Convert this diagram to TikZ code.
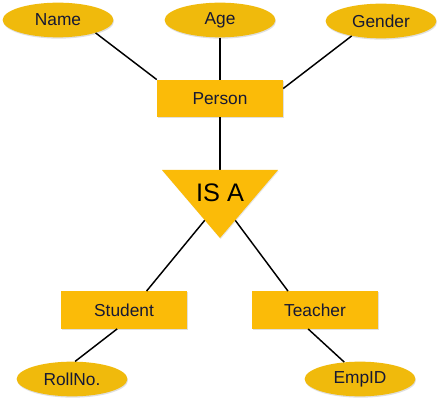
\documentclass[tikz,border=0pt]{standalone}
\usepackage{fontspec}
\setmainfont{Liberation Sans}
\usepackage{xcolor}
\usetikzlibrary{shapes.geometric,shadows}
\definecolor{boxyellow}{RGB}{251,187,8}
\definecolor{ovalyellow}{RGB}{240,186,12}
\definecolor{textnavy}{RGB}{22,24,52}

\tikzset{
  entity/.style={fill=boxyellow, minimum width=94.5pt, minimum height=28pt, inner sep=0pt,
    text=textnavy, font=\fontsize{13}{15}\selectfont,
    drop shadow={opacity=0.25, shadow xshift=0.5pt, shadow yshift=-0.8pt}},
  attrib/.style={ellipse, fill=ovalyellow, minimum width=83pt, minimum height=26pt, inner sep=0pt,
    text=textnavy, font=\fontsize{13}{15}\selectfont,
    drop shadow={opacity=0.25, shadow xshift=0.5pt, shadow yshift=-1pt}},
  link/.style={line width=1.1pt}
}

\begin{document}
\begin{tikzpicture}[x=0.75pt,y=-0.75pt]
		\useasboundingbox (0,0) rectangle (440,403);
		% attributes of person
		\node[attrib] (name) at (58,20) {Name};
		\node[attrib] (age) at (220,20) {Age};
		\node[attrib] (gender) at (381,21) {Gender};
		\node[entity] (person) at (220,98.5) {Person};
		% is a triangle
		\coordinate (isa-top) at (220,170);
		\coordinate (isa-l) at (205,220);
		\coordinate (isa-r) at (235,220);
		\node[entity] (student) at (124,310) {Student};
		\node[entity] (teacher) at (315,310) {Teacher};
		\node[attrib] (rollno) at (72,379) {RollNo.};
		\node[attrib] (empid) at (360,379) {EmpID};
		\draw[link] (name.-19) -- (person.north west);
		\draw[link] (age) -- (person);
		\draw[link] (gender.207) -- (person.9);
		\draw[link] (person) -- (isa-top);
		\draw[link] (isa-l) -- (student.40);
		\draw[link] (isa-r) -- (teacher.145);
		\draw[link] (student.250) -- (rollno.80);
		\draw[link] (teacher.250) -- (empid.133);
		\fill[boxyellow, drop shadow={opacity=0.2, shadow xshift=0.5pt, shadow yshift=-0.8pt}] (162,170) -- (278,170) -- (220,238) -- cycle;
		\node[font=\fontsize{19}{21}\selectfont] (isa) at (220,192.5) {IS A};
	\end{tikzpicture}
\end{document}
